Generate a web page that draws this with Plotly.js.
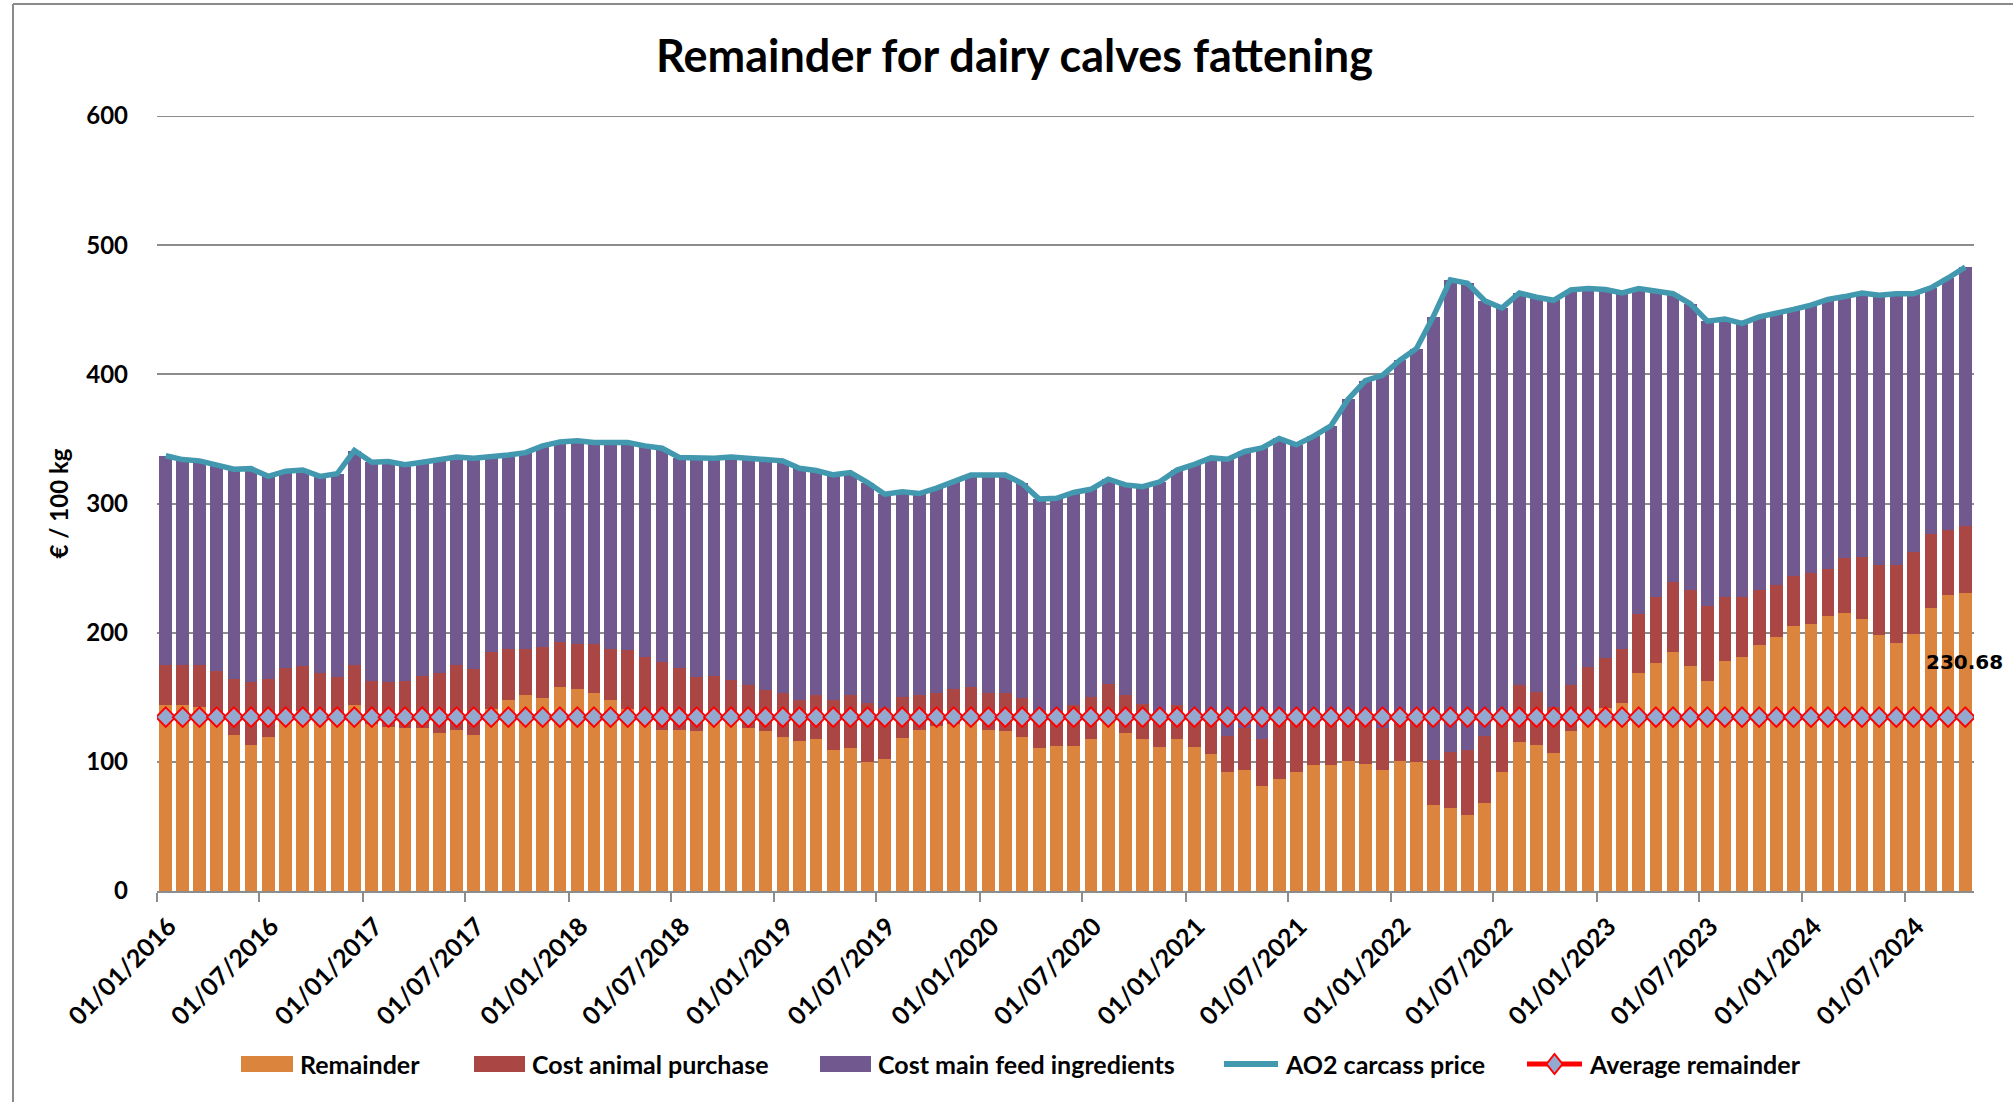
<!DOCTYPE html>
<html>
<head>
<meta charset="utf-8">
<script src="https://cdn.plot.ly/plotly-3.0.1.min.js"></script>
<style>
  html, body { margin: 0; padding: 0; background: #ffffff; }
  #chart { width: 2013px; height: 1102px; }
</style>
</head>
<body>
<div id="chart"></div>
<script>
// ---------------- DATA ----------------
const months = [
  '2016-01','2016-02','2016-03','2016-04','2016-05','2016-06','2016-07','2016-08','2016-09','2016-10','2016-11','2016-12',
  '2017-01','2017-02','2017-03','2017-04','2017-05','2017-06','2017-07','2017-08','2017-09','2017-10','2017-11','2017-12',
  '2018-01','2018-02','2018-03','2018-04','2018-05','2018-06','2018-07','2018-08','2018-09','2018-10','2018-11','2018-12',
  '2019-01','2019-02','2019-03','2019-04','2019-05','2019-06','2019-07','2019-08','2019-09','2019-10','2019-11','2019-12',
  '2020-01','2020-02','2020-03','2020-04','2020-05','2020-06','2020-07','2020-08','2020-09','2020-10','2020-11','2020-12',
  '2021-01','2021-02','2021-03','2021-04','2021-05','2021-06','2021-07','2021-08','2021-09','2021-10','2021-11','2021-12',
  '2022-01','2022-02','2022-03','2022-04','2022-05','2022-06','2022-07','2022-08','2022-09','2022-10','2022-11','2022-12',
  '2023-01','2023-02','2023-03','2023-04','2023-05','2023-06','2023-07','2023-08','2023-09','2023-10','2023-11','2023-12',
  '2024-01','2024-02','2024-03','2024-04','2024-05','2024-06','2024-07','2024-08','2024-09','2024-10'
];

const remainder = [
  144.3,144.3,142.3,131.0,121.1,113.4,119.6,132.0,139.7,133.0,131.0,144.3,
  129.0,127.0,126.0,126.0,122.2,125.0,121.1,141.0,148.2,152.0,149.5,158.2,
  156.4,153.0,148.2,141.0,132.0,125.0,125.0,123.5,132.0,130.7,126.0,123.5,
  119.6,116.0,117.3,108.8,111.0,99.7,102.3,118.6,125.0,128.0,129.4,130.7,
  125.0,123.5,119.6,111.0,112.6,112.6,117.3,130.7,122.0,117.5,111.8,117.8,
  111.8,105.7,92.3,93.3,81.2,86.6,92.3,97.3,97.3,100.7,98.3,93.3,
  100.7,100.0,66.4,64.0,58.5,68.0,92.3,115.1,112.8,106.7,124.2,130.0,
  142.0,145.4,168.9,176.3,185.0,173.9,162.9,178.0,181.3,190.8,196.8,204.9,
  206.9,213.2,215.5,210.8,198.3,192.3,199.0,219.2,229.3,230.68
];

const animalPurchase = [
  30.7,30.7,32.7,39.1,43.1,48.2,44.6,40.7,34.5,35.8,34.5,30.7,
  33.6,34.6,36.6,40.5,46.6,50.0,50.5,43.8,39.2,35.4,39.2,34.3,
  34.8,38.2,39.2,45.6,49.4,52.6,47.7,42.0,34.5,32.3,33.3,32.2,
  33.4,32.0,34.5,39.2,40.8,45.9,39.5,31.9,26.8,25.0,27.0,27.5,
  28.0,29.5,29.9,28.7,26.4,31.7,33.2,29.6,29.8,27.0,25.2,25.9,
  25.2,31.3,27.9,32.9,36.6,48.4,42.7,37.7,39.7,36.3,38.7,32.9,
  36.3,37.0,35.3,43.4,50.9,52.2,44.7,44.7,41.0,36.0,35.6,43.3,
  38.7,42.0,45.4,51.4,54.5,58.9,58.1,49.7,46.4,42.0,40.0,39.0,
  39.3,36.0,42.3,47.7,54.1,60.1,63.2,57.1,50.4,51.7
];

const feedIngredients = [
  162.0,159.0,158.0,159.9,162.3,165.4,156.8,152.3,151.8,152.2,157.5,166.0,
  169.4,170.9,167.4,165.5,165.2,161.0,163.4,151.2,150.2,152.0,155.9,155.2,
  157.3,156.0,159.8,160.6,163.2,165.2,162.9,169.3,168.5,173.0,175.7,178.3,
  180.0,179.3,173.7,174.2,172.2,170.6,165.4,158.5,155.9,158.9,161.1,163.8,
  169.0,169.0,166.0,163.7,165.0,164.2,160.5,158.5,162.6,168.5,179.8,182.2,
  193.3,198.3,214.1,214.1,225.2,215.4,210.4,217.1,223.2,243.7,258.1,273.0,
  273.9,283.0,342.8,365.7,361.0,336.8,314.3,303.2,305.9,314.6,305.6,293.1,
  285.0,275.6,252.1,237.0,222.9,221.8,220.2,215.2,211.8,211.7,210.1,206.4,
  207.4,208.8,202.4,204.5,208.8,210.0,200.2,190.7,194.9,200.6
];

const carcassPrice = [
  337.0,334.0,333.0,330.0,326.5,327.0,321.0,325.0,326.0,321.0,323.0,341.0,
  332.0,332.5,330.0,332.0,334.0,336.0,335.0,336.0,337.6,339.4,344.6,347.7,
  348.5,347.2,347.2,347.2,344.6,342.8,335.6,334.8,335.0,336.0,335.0,334.0,
  333.0,327.3,325.5,322.2,324.0,316.2,307.2,309.0,307.7,311.9,317.5,322.0,
  322.0,322.0,315.5,303.4,304.0,308.5,311.0,318.8,314.4,313.0,316.8,325.9,
  330.3,335.3,334.3,340.3,343.0,350.4,345.4,352.1,360.2,380.7,395.1,399.2,
  410.9,420.0,444.5,473.1,470.4,457.0,451.3,463.0,459.7,457.3,465.4,466.4,
  465.7,463.0,466.4,464.7,462.4,454.6,441.2,442.9,439.5,444.5,446.9,450.3,
  453.6,458.0,460.2,463.0,461.2,462.4,462.4,467.0,474.6,483.0
];

const averageRemainderValue = 134.6;
const averageRemainder = months.map(() => averageRemainderValue);

const seriesNames = ['Remainder', 'Cost animal purchase', 'Cost main feed ingredients', 'AO2 carcass price', 'Average remainder'];
const yTickVals = [0, 100, 200, 300, 400, 500, 600];

// ---------------- STYLE ----------------
const FONT = 'Lato, "Open Sans", "DejaVu Sans", sans-serif';
const C_ORANGE = '#DB843D', C_RED = '#AA4643', C_PURPLE = '#71588F', C_TEAL = '#4198AF';
const C_AVG = '#FF0000', C_DIAMOND = '#93A9CF', C_GRID = '#8C8C8C';

const W = 2013, H = 1102, ML = 157, MR = 39, MT = 116, MB = 211;
const PW = W - ML - MR, PH = H - MT - MB;
const px = x => (x - ML) / PW;
const py = y => (H - MB - y) / PH;

const BAR_W = 0.74 * 30.44 * 86400000; // ms

const barCommon = {
  type: 'bar', x: months, xperiod: 'M1', xperiodalignment: 'middle',
  width: BAR_W, showlegend: false, hoverinfo: 'x+y+name'
};

const traces = [
  Object.assign({}, barCommon, { name: seriesNames[0], y: remainder, marker: { color: C_ORANGE } }),
  Object.assign({}, barCommon, { name: seriesNames[1], y: animalPurchase, marker: { color: C_RED } }),
  Object.assign({}, barCommon, { name: seriesNames[2], y: feedIngredients, marker: { color: C_PURPLE } }),
  { type: 'scatter', mode: 'lines', name: seriesNames[3], x: months, y: carcassPrice,
    xperiod: 'M1', xperiodalignment: 'middle', showlegend: false,
    line: { color: C_TEAL, width: 5.5 } },
  { type: 'scatter', mode: 'lines+markers', name: seriesNames[4], x: months, y: averageRemainder,
    xperiod: 'M1', xperiodalignment: 'middle', showlegend: false,
    line: { color: C_AVG, width: 2.5 },
    marker: { symbol: 'diamond', size: 15, color: C_DIAMOND, line: { color: C_AVG, width: 2 } } }
];

// ---------------- LEGEND (drawn with shapes + annotations) ----------------
const LEG_Y = 1064;
const legendItems = [
  { name: seriesNames[0], kind: 'box', color: C_ORANGE, x0: 241, x1: 293, tx: 298 },
  { name: seriesNames[1], kind: 'box', color: C_RED, x0: 474, x1: 525, tx: 530 },
  { name: seriesNames[2], kind: 'box', color: C_PURPLE, x0: 820, x1: 871, tx: 876 },
  { name: seriesNames[3], kind: 'line', color: C_TEAL, x0: 1224, x1: 1278, tx: 1283 },
  { name: seriesNames[4], kind: 'diamond', color: C_AVG, x0: 1527, x1: 1582, tx: 1587 }
];

const shapes = [];
const annotations = [];

// top gridline at 600 (Plotly skips the gridline on the range edge)
shapes.push({ type: 'line', xref: 'paper', yref: 'y', x0: 0, x1: 1, y0: yTickVals[yTickVals.length - 1], y1: yTickVals[yTickVals.length - 1],
  line: { color: C_GRID, width: 2 }, layer: 'below' });

legendItems.forEach(it => {
  if (it.kind === 'box') {
    shapes.push({ type: 'rect', xref: 'paper', yref: 'paper',
      x0: px(it.x0), x1: px(it.x1), y0: py(LEG_Y + 8), y1: py(LEG_Y - 8),
      fillcolor: it.color, line: { width: 0 } });
  } else {
    shapes.push({ type: 'line', xref: 'paper', yref: 'paper',
      x0: px(it.x0), x1: px(it.x1), y0: py(LEG_Y), y1: py(LEG_Y),
      line: { color: it.color, width: it.kind === 'line' ? 6 : 5 } });
    if (it.kind === 'diamond') {
      shapes.push({ type: 'path', xref: 'paper', yref: 'paper',
        xsizemode: 'pixel', ysizemode: 'pixel',
        xanchor: px((it.x0 + it.x1) / 2), yanchor: py(LEG_Y),
        path: 'M-8,0 L0,10 L8,0 L0,-10 Z',
        fillcolor: C_DIAMOND, line: { color: C_AVG, width: 2 } });
    }
  }
  annotations.push({ xref: 'paper', yref: 'paper', x: px(it.tx), y: py(LEG_Y),
    xanchor: 'left', yanchor: 'middle', showarrow: false, text: it.name,
    font: { family: FONT, size: 25, color: '#000000', weight: 700 } });
});

// chart frame (left and top border of the original chart area)
shapes.push({ type: 'line', xref: 'paper', yref: 'paper', x0: px(13), x1: px(13), y0: py(4), y1: py(H + 5),
  line: { color: '#8A8A8A', width: 2 } });
shapes.push({ type: 'line', xref: 'paper', yref: 'paper', x0: px(13), x1: px(W + 5), y0: py(4), y1: py(4),
  line: { color: '#8A8A8A', width: 2 } });

// data label for the last remainder value
const lastIdx = remainder.length - 1;
annotations.push({ x: '2024-10-16', y: remainder[lastIdx], xref: 'x', yref: 'y',
  text: remainder[lastIdx].toFixed(2), showarrow: false, xanchor: 'center', yanchor: 'middle',
  yshift: -69, font: { family: '"DejaVu Sans", Verdana, sans-serif', size: 20, color: '#000000', weight: 700 } });

const layout = {
  width: W, height: H,
  margin: { l: ML, r: MR, t: MT, b: MB, pad: 0 },
  paper_bgcolor: '#ffffff', plot_bgcolor: '#ffffff',
  barmode: 'stack', bargap: 0.26,
  showlegend: false,
  font: { family: FONT, color: '#000000' },
  title: { text: 'Remainder for dairy calves fattening', xref: 'container', yref: 'container',
    x: 0.504, y: 1 - 56 / H, xanchor: 'center', yanchor: 'middle',
    font: { family: FONT, size: 45, color: '#000000', weight: 700 } },
  xaxis: {
    type: 'date', range: ['2016-01-01', '2024-11-01'], autorange: false,
    tick0: '2016-01-01', dtick: 'M6', tickformat: '%d/%m/%Y', tickangle: -45,
    ticks: 'outside', ticklen: 9, tickwidth: 2, tickcolor: C_GRID,
    ticklabelshift: 12,
    showline: true, linecolor: C_GRID, linewidth: 2, showgrid: false, zeroline: false,
    tickfont: { family: FONT, size: 25, color: '#000000', weight: 700 }
  },
  yaxis: {
    range: [0, 600], autorange: false, tickvals: yTickVals,
    showgrid: true, gridcolor: C_GRID, gridwidth: 2, zeroline: false, showline: false,
    ticks: '', ticklabelstandoff: 28,
    tickfont: { family: FONT, size: 24, color: '#000000', weight: 700 },
    title: { text: '€ / 100 kg', standoff: 10, font: { family: FONT, size: 24, color: '#000000', weight: 700 } }
  },
  shapes: shapes,
  annotations: annotations
};

Plotly.newPlot('chart', traces, layout, { staticPlot: true, displayModeBar: false });
</script>
</body>
</html>
